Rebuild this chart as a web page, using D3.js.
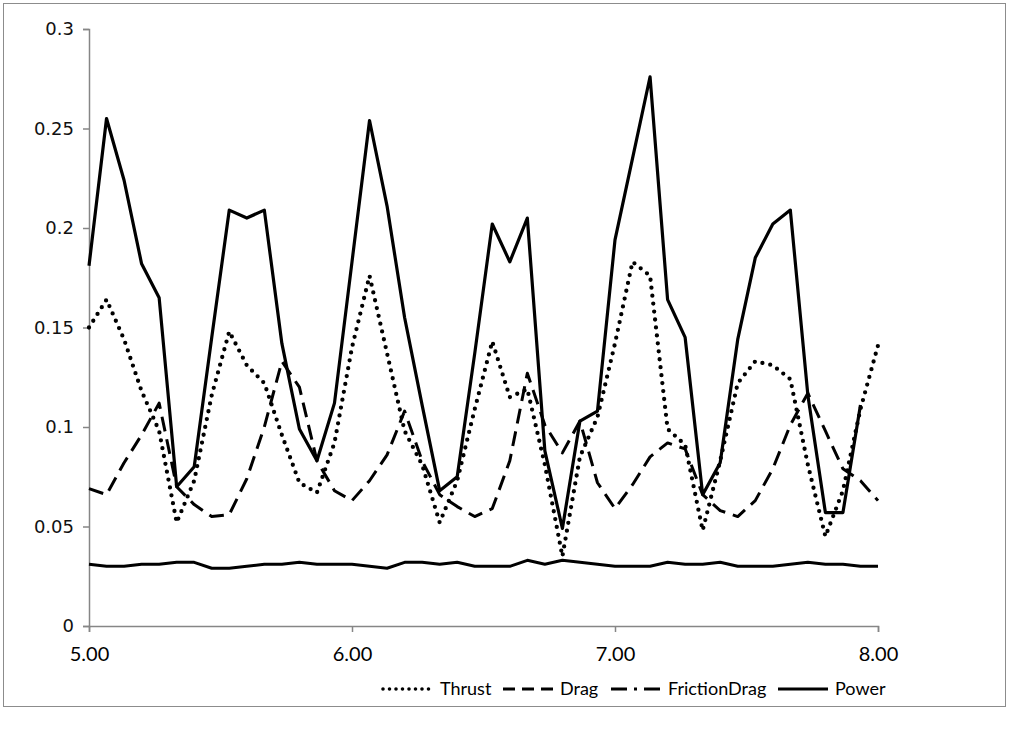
<!DOCTYPE html>
<html>
<head>
<meta charset="utf-8">
<script src="https://cdn.jsdelivr.net/npm/d3@7"></script>
<style>
  html, body { margin: 0; padding: 0; background: #fff; }
  svg { display: block; }
</style>
</head>
<body>
<div id="chart"></div>
<script>
// x runs 5.00 .. 8.00 in steps of 1/15 (46 samples)
const xStart = 5;
const xStep = 1 / 15;
const xTicks = [5, 6, 7, 8];
const yTicks = [0, 0.05, 0.1, 0.15, 0.2, 0.25, 0.3];

const thrust = [
  0.150, 0.164, 0.144, 0.118, 0.098, 0.052, 0.073, 0.116, 0.148, 0.131,
  0.122, 0.096, 0.072, 0.067, 0.092, 0.140, 0.176, 0.137, 0.098, 0.081,
  0.052, 0.073, 0.109, 0.143, 0.115, 0.119, 0.081, 0.035, 0.085, 0.105,
  0.142, 0.183, 0.176, 0.099, 0.091, 0.048, 0.083, 0.122, 0.133, 0.131,
  0.124, 0.081, 0.045, 0.068, 0.109, 0.141
];
const drag = [
  0.069, 0.066, 0.082, 0.096, 0.112, 0.070, 0.061, 0.055, 0.056, 0.074,
  0.100, 0.133, 0.120, 0.083, 0.068, 0.063, 0.073, 0.086, 0.108, 0.083,
  0.066, 0.060, 0.055, 0.059, 0.083, 0.127, 0.101, 0.087, 0.103, 0.072,
  0.059, 0.071, 0.085, 0.092, 0.089, 0.066, 0.058, 0.055, 0.063, 0.079,
  0.101, 0.117, 0.098, 0.079, 0.073, 0.063
];
const frictionDrag = [
  0.031, 0.030, 0.030, 0.031, 0.031, 0.032, 0.032, 0.029, 0.029, 0.030,
  0.031, 0.031, 0.032, 0.031, 0.031, 0.031, 0.030, 0.029, 0.032, 0.032,
  0.031, 0.032, 0.030, 0.030, 0.030, 0.033, 0.031, 0.033, 0.032, 0.031,
  0.030, 0.030, 0.030, 0.032, 0.031, 0.031, 0.032, 0.030, 0.030, 0.030,
  0.031, 0.032, 0.031, 0.031, 0.030, 0.030
];
// Power stops one sample before 8.00
const power = [
  0.181, 0.255, 0.224, 0.182, 0.165, 0.070, 0.080, 0.145, 0.209, 0.205,
  0.209, 0.142, 0.099, 0.083, 0.112, 0.183, 0.254, 0.211, 0.155, 0.111,
  0.068, 0.075, 0.137, 0.202, 0.183, 0.205, 0.088, 0.049, 0.103, 0.108,
  0.194, 0.235, 0.276, 0.164, 0.145, 0.066, 0.082, 0.144, 0.185, 0.202,
  0.209, 0.116, 0.057, 0.057, 0.111
];

const seriesNames = ['Thrust', 'Drag', 'FrictionDrag', 'Power'];
const seriesValues = [thrust, drag, frictionDrag, power];

const width = 1010, height = 733;
const plot = { left: 89, right: 878, top: 29, bottom: 626 };

const styles = {
  Thrust:       { width: 4.3, dash: '0,8', cap: 'round', legendDash: '0,6.5' },
  Drag:         { width: 3, dash: '15,8', cap: 'butt', legendDash: '12,7' },
  FrictionDrag: { width: 3, dash: null, cap: 'butt', legendDash: '16,7,3,7' },
  Power:        { width: 3.2, dash: null, cap: 'butt', legendDash: null }
};

const svg = d3.select('#chart').append('svg')
  .attr('width', width)
  .attr('height', height);

// chart area border
svg.append('rect')
  .attr('x', 3.5).attr('y', 3.5)
  .attr('width', 1002).attr('height', 703)
  .attr('fill', '#fff')
  .attr('stroke', '#8c8c8c')
  .attr('stroke-width', 1);

const x = d3.scaleLinear().domain([5, 8]).range([plot.left, plot.right]);
const y = d3.scaleLinear().domain([0, 0.3]).range([plot.bottom, plot.top]);

const axisColor = '#868686';

const yAxisG = svg.append('g')
  .attr('transform', `translate(${plot.left},0)`)
  .call(d3.axisLeft(y).tickValues(yTicks).tickSize(6).tickPadding(9)
    .tickFormat(d => d === 0 ? '0' : d3.format('')(+d.toFixed(2))));

const xAxisG = svg.append('g')
  .attr('transform', `translate(0,${plot.bottom})`)
  .call(d3.axisBottom(x).tickValues(xTicks).tickSize(6).tickPadding(15)
    .tickFormat(d3.format('.2f')));

[xAxisG, yAxisG].forEach(a => {
  a.select('.domain').attr('stroke', axisColor).attr('stroke-width', 1.5);
  a.selectAll('.tick line').attr('stroke', axisColor).attr('stroke-width', 1.5);
});
yAxisG.selectAll('text')
  .attr('fill', '#111')
  .style('font-family', 'DejaVu Sans, Verdana, sans-serif')
  .style('font-size', '18px');
xAxisG.selectAll('text')
  .attr('fill', '#000')
  .style('font-family', 'Lato, "Open Sans", sans-serif')
  .style('font-size', '20px');

const line = d3.line()
  .x((d, i) => x(xStart + i * xStep))
  .y(d => y(d));

const linesG = svg.append('g');
seriesNames.forEach((name, k) => {
  const s = styles[name];
  linesG.append('path')
    .datum(seriesValues[k])
    .attr('d', line)
    .attr('fill', 'none')
    .attr('stroke', '#000')
    .attr('stroke-width', s.width)
    .attr('stroke-linejoin', 'round')
    .attr('stroke-linecap', s.cap)
    .attr('stroke-dasharray', s.dash);
});

// legend
const legendX = [383, 503, 611, 778];
const legendY = 689;
const legendG = svg.append('g');
seriesNames.forEach((name, k) => {
  const s = styles[name];
  const g = legendG.append('g').attr('transform', `translate(${legendX[k]},${legendY})`);
  g.append('line')
    .attr('x1', 0).attr('x2', 50)
    .attr('y1', 0).attr('y2', 0)
    .attr('stroke', '#000')
    .attr('stroke-width', name === 'Thrust' ? 3.6 : s.width)
    .attr('stroke-linecap', s.cap)
    .attr('stroke-dasharray', s.legendDash);
  g.append('text')
    .attr('x', 57)
    .attr('y', 0)
    .attr('dy', '0.35em')
    .style('font-family', 'Lato, "Open Sans", sans-serif')
    .style('font-size', '18px')
    .text(name);
});
</script>
</body>
</html>
